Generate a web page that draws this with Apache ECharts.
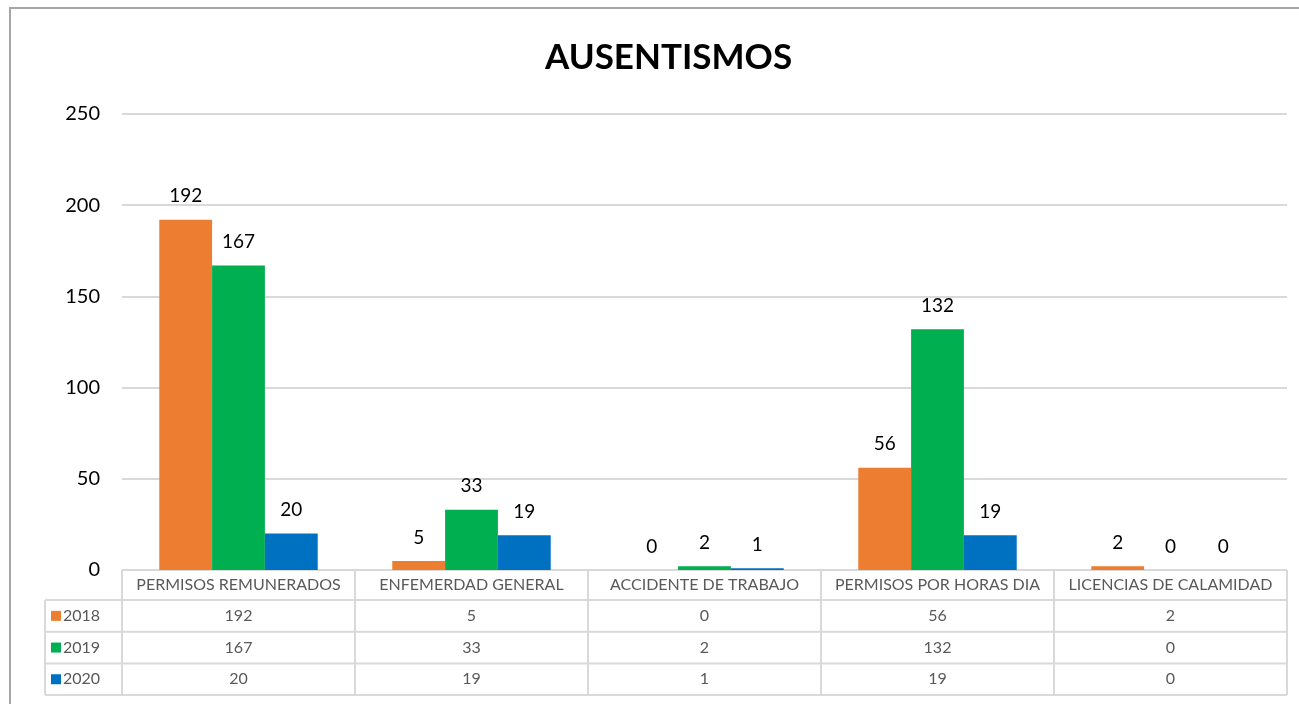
<!DOCTYPE html>
<html lang="es">
<head>
  <meta charset="UTF-8">
  <title>Ausentismos</title>
  <script src="https://cdn.jsdelivr.net/npm/echarts@6/dist/echarts.min.js"></script>
  <style>
    html, body { margin: 0; padding: 0; background: #fff; }
  </style>
</head>
<body>
<div id="main" style="width: 1299px;height:704px;"></div>
<script type="text/javascript">

// datos
var categorias = ['PERMISOS REMUNERADOS', 'ENFEMERDAD GENERAL', 'ACCIDENTE DE TRABAJO', 'PERMISOS POR HORAS DIA', 'LICENCIAS DE CALAMIDAD'];
var anios = ['2018', '2019', '2020'];
var datos2018 = [192, 5, 0, 56, 2];
var datos2019 = [167, 33, 2, 132, 0];
var datos2020 = [20, 19, 1, 19, 0];
var colores = ['#ED7D31', '#00B050', '#0070C0'];

var series = [datos2018, datos2019, datos2020];
var fuente = 'Lato, "Open Sans", sans-serif';

var myChart = echarts.init(document.getElementById('main'));

var option = {
  animation: false,
  title: {
    text: 'AUSENTISMOS',
    left: 540,
    top: 35,
    textStyle: { fontFamily: fuente, fontSize: 35, fontWeight: 'bold', color: '#000' }
  },
  grid: { left: 122, right: 12, top: 114, bottom: 134 },
  xAxis: {
    type: 'category',
    data: categorias,
    axisLine: { show: false },
    axisTick: { show: false },
    axisLabel: { show: false }
  },
  yAxis: {
    type: 'value',
    min: 0,
    max: 250,
    interval: 50,
    axisLine: { show: false },
    axisTick: { show: false },
    axisLabel: { fontFamily: fuente, fontSize: 20, color: '#000', margin: 22 },
    splitLine: { lineStyle: { color: '#D9D9D9', width: 2 } }
  },
  series: series.map(function (d, i) {
    return {
      name: anios[i],
      type: 'bar',
      data: d,
      barGap: '0%',
      barCategoryGap: '32%',
      itemStyle: { color: colores[i] },
      label: {
        show: true,
        position: 'top',
        distance: 14,
        fontFamily: fuente,
        fontSize: 19,
        color: '#000'
      }
    };
  })
};

myChart.setOption(option);

// tabla de datos bajo el eje
function dibujarTabla() {
  var cx0 = myChart.convertToPixel({ xAxisIndex: 0 }, 0);
  var cx1 = myChart.convertToPixel({ xAxisIndex: 0 }, 1);
  var banda = cx1 - cx0;
  var izq = cx0 - banda / 2;
  var der = izq + banda * categorias.length;
  var base = myChart.convertToPixel({ yAxisIndex: 0 }, 0);
  var altoCab = 30;
  var altoFila = 31.7;
  var leyIzq = 45;
  var linea = { stroke: '#D9D9D9', lineWidth: 2 };
  var txt = { fontFamily: fuente, fontSize: 16, fill: '#595959' };
  var g = [];

  // marco exterior
  g.push({ type: 'polyline', shape: { points: [[10, 710], [10, 8], [1310, 8]] },
    style: { stroke: '#A6A6A6', lineWidth: 2, fill: null }, silent: true });

  var fondo = base + altoCab + altoFila * anios.length;
  // lineas horizontales
  g.push({ type: 'line', shape: { x1: izq, y1: base, x2: der, y2: base }, style: linea });
  for (var r = 0; r <= anios.length; r++) {
    var y = base + altoCab + altoFila * r;
    g.push({ type: 'line', shape: { x1: leyIzq, y1: y, x2: der, y2: y }, style: linea });
  }
  // lineas verticales
  g.push({ type: 'line', shape: { x1: leyIzq, y1: base + altoCab, x2: leyIzq, y2: fondo }, style: linea });
  for (var c = 0; c <= categorias.length; c++) {
    var x = izq + banda * c;
    g.push({ type: 'line', shape: { x1: x, y1: base, x2: x, y2: fondo }, style: linea });
  }
  // cabeceras
  categorias.forEach(function (cat, i) {
    g.push({ type: 'text', x: izq + banda * (i + 0.5), y: base + altoCab / 2,
      style: Object.assign({ text: cat, align: 'center', verticalAlign: 'middle' }, txt) });
  });
  // filas
  anios.forEach(function (a, r) {
    var yc = base + altoCab + altoFila * (r + 0.5);
    g.push({ type: 'rect', shape: { x: 51, y: yc - 5, width: 10, height: 10 },
      style: { fill: colores[r] } });
    g.push({ type: 'text', x: 63, y: yc,
      style: Object.assign({ text: a, align: 'left', verticalAlign: 'middle' }, txt) });
    series[r].forEach(function (v, i) {
      g.push({ type: 'text', x: izq + banda * (i + 0.5), y: yc,
        style: Object.assign({ text: String(v), align: 'center', verticalAlign: 'middle' }, txt) });
    });
  });

  myChart.setOption({ graphic: { elements: g } });
}

dibujarTabla();

</script>
</body>
</html>
